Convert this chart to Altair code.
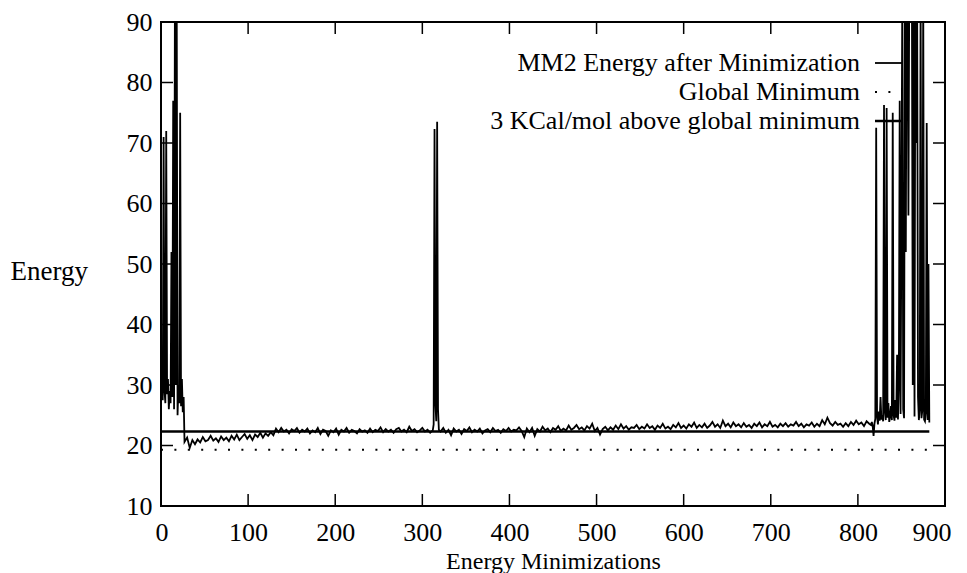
import altair as alt
import pandas as pd

# ---------------- data ----------------
# early region, x = 0..26 (step 1)
early_y = [28.0, 30.5, 27.5, 71.0, 29.0, 27.0, 72.0, 28.5, 31.0, 26.0, 29.0, 27.0,
           52.0, 28.0, 77.0, 26.0, 96.0, 30.0, 96.0, 25.0, 30.0, 27.0, 75.0, 26.5,
           31.0, 25.5, 28.0]
# baseline part 1, x = 27, 30, ... (step 3)
base1_y = [20.6, 21.3, 19.6, 20.9, 20.2, 21.0, 20.5, 21.4, 20.7, 20.9, 21.6, 20.8,
           21.2, 20.6, 21.5, 20.9, 21.3, 20.7, 21.6, 21.0, 21.8, 20.9, 21.4, 21.9,
           21.1, 21.7, 20.9, 21.8, 21.4, 22.1, 21.3, 22.0, 21.6, 22.2, 21.7, 22.8,
           22.2, 22.9, 22.3, 22.6, 22.0, 22.7, 22.4, 22.9, 22.1, 22.6, 22.3, 22.8,
           22.0, 22.5, 22.2, 22.9, 21.9, 22.6, 22.4, 21.6, 22.5, 22.2, 22.8, 21.8,
           22.6, 22.3, 22.9, 22.1, 22.6, 22.4, 22.0, 22.7, 22.3, 22.5, 22.1, 22.8,
           22.2, 22.6, 22.4, 23.0, 22.2, 22.7, 22.3, 22.6, 22.1, 22.7, 22.9, 22.3,
           22.6, 22.2, 23.1, 22.4, 22.7, 22.2, 22.5, 22.9, 22.3, 22.6, 22.1, 22.5]
# spike near 315, x = 313..319 (step 1)
spike_y = [23.5, 72.3, 27.0, 24.0, 73.5, 26.0, 22.6]
# baseline part 2, x = 321, 324, ... (step 3)
base2_y = [22.3, 22.9, 22.1, 22.6, 21.7, 22.8, 22.3, 22.6, 21.9, 22.7, 22.4, 23.0,
           22.2, 22.6, 22.3, 22.8, 22.0, 22.5, 22.7, 22.2, 22.9, 22.4, 22.6, 22.1,
           22.7, 22.4, 22.9, 22.3, 22.6, 22.5, 23.0, 22.4, 21.4, 22.8, 22.2, 22.9,
           21.6, 22.7, 22.3, 23.1, 22.5, 22.8, 22.2, 22.9, 22.6, 23.2, 22.4, 22.8,
           22.5, 23.3, 22.6, 22.9, 23.4, 22.7, 23.0, 22.5, 23.2, 22.8, 23.6, 22.4,
           22.9, 21.8, 22.7, 23.1, 22.5, 23.0, 22.6, 23.3, 22.7, 23.5, 22.8, 23.2,
           22.6, 23.0, 22.9, 23.4, 22.7, 23.1, 22.8, 23.5, 22.9, 23.2, 22.6, 23.3,
           22.9, 23.6, 22.8, 23.1, 22.7, 23.4, 23.0, 23.7, 22.9, 23.3, 22.8, 23.5,
           23.1, 23.8, 22.9, 23.4, 23.0, 23.6, 22.9, 23.3, 23.9, 23.1, 23.5, 22.9,
           24.1, 23.2, 23.6, 23.0, 23.8, 23.2, 23.5, 23.0, 23.7, 23.1, 23.4, 22.9,
           23.6, 23.2, 23.8, 23.0, 23.5, 23.2, 23.9, 23.1, 23.4, 23.0, 23.6, 23.2,
           23.7, 23.1, 23.5, 23.3, 23.9, 23.2, 23.6, 23.0, 23.5, 23.3, 23.8, 23.1,
           23.6, 23.2, 24.2, 23.5, 24.6, 23.7, 23.3, 23.9, 23.4, 23.6, 23.1, 23.7,
           23.2, 23.9, 23.4, 24.1, 23.5, 23.8, 23.2, 24.0, 23.6]
# unstable end region, x = 815..882 (step 1)
late_y = [23.4, 23.9, 23.2, 21.6, 23.6, 24.4, 72.5, 24.8, 23.5, 25.6, 24.1, 28.0,
          24.3, 25.0, 24.0, 76.3, 25.5, 24.2, 75.8, 24.6, 27.0, 23.9, 24.8, 26.5,
          24.2, 75.0, 25.0, 24.1, 27.5, 24.6, 35.0, 24.3, 30.0, 77.0, 25.2, 58.0,
          96.0, 26.0, 24.5, 96.0, 52.0, 96.0, 96.0, 58.0, 96.0, 96.0, 96.0, 96.0,
          30.0, 96.0, 24.8, 96.0, 70.0, 96.0, 28.0, 24.2, 26.0, 96.0, 24.5, 25.8,
          96.0, 24.3, 24.0, 25.5, 73.3, 24.2, 50.0, 23.8]

global_min = 19.3
above_min = 22.3
ref_line_end = 882

x_ticks = [0, 100, 200, 300, 400, 500, 600, 700, 800, 900]
y_ticks = [10, 20, 30, 40, 50, 60, 70, 80, 90]
legend_labels = ["MM2 Energy after Minimization", "Global Minimum",
                 "3 KCal/mol above global minimum"]

# ---------------- tables ----------------
xs, ys = [], []
xs += list(range(0, len(early_y)));                 ys += early_y
xs += [27 + 3 * i for i in range(len(base1_y))];    ys += base1_y
xs += [313 + i for i in range(len(spike_y))];       ys += spike_y
xs += [321 + 3 * i for i in range(len(base2_y))];   ys += base2_y
xs += [815 + i for i in range(len(late_y))];        ys += late_y
df = pd.DataFrame({"x": xs, "y": ys})

ref_df = pd.DataFrame({"x0": [0, 0], "x1": [ref_line_end, ref_line_end],
                       "y": [global_min, above_min], "kind": ["min", "above"]})
xt = pd.DataFrame({"t": x_ticks[1:-1]})
yt = pd.DataFrame({"t": y_ticks[1:-1]})

W, H = 784, 484
FONT = "Liberation Serif"

xscale = alt.Scale(domain=[0, 900], nice=False, zero=False)
yscale = alt.Scale(domain=[10, 90], nice=False, zero=False)
xaxis = alt.Axis(values=x_ticks, title="Energy Minimizations", labelFlush=True,
                 labelFlushOffset=6, labelPadding=13, titleY=62,
                 titleBaseline="alphabetic", titleAnchor="middle", titleFontSize=24)
yaxis = alt.Axis(values=y_ticks, title="Energy", labelFlush=False,
                 labelPadding=9, titleAngle=0, titleAlign="left",
                 titleBaseline="alphabetic", titleX=-151, titleY=257)

def X(f):
    return alt.X(f, scale=xscale, axis=xaxis, title="Energy Minimizations")

def Y(f):
    return alt.Y(f, scale=yscale, axis=yaxis, title="Energy")

main = alt.Chart(df).mark_line(color="black", strokeWidth=1.8, clip=True).encode(
    x=X("x:Q"), y=Y("y:Q"))

min_rule = alt.Chart(ref_df).transform_filter(alt.datum.kind == "min").mark_rule(
    color="black", strokeWidth=2, strokeDash=[2, 11.4]).encode(
    x=X("x0:Q"), x2="x1:Q", y=Y("y:Q"))
above_rule = alt.Chart(ref_df).transform_filter(alt.datum.kind == "above").mark_rule(
    color="black", strokeWidth=2.5).encode(
    x=X("x0:Q"), x2="x1:Q", y=Y("y:Q"))

tick_len = 12
bt = alt.Chart(xt).mark_rule(color="black", strokeWidth=1.5).encode(
    x=X("t:Q"), y=alt.value(H), y2=alt.value(H - tick_len))
tt = alt.Chart(xt).mark_rule(color="black", strokeWidth=1.5).encode(
    x=X("t:Q"), y=alt.value(0), y2=alt.value(tick_len))
lt = alt.Chart(yt).mark_rule(color="black", strokeWidth=1.5).encode(
    y=Y("t:Q"), x=alt.value(0), x2=alt.value(tick_len))
rt = alt.Chart(yt).mark_rule(color="black", strokeWidth=1.5).encode(
    y=Y("t:Q"), x=alt.value(W), x2=alt.value(W - tick_len))

# legend (top right, labels left of samples)
one = alt.Data(values=[{}])
leg_layers = []
base_y = [49, 78, 107]
styles = [dict(strokeWidth=1.8), dict(strokeWidth=2, strokeDash=[2, 11.4]), dict(strokeWidth=2.5)]
for lab, by, st in zip(legend_labels, base_y, styles):
    leg_layers.append(alt.Chart(one).mark_text(
        text=lab, align="right", baseline="alphabetic", font=FONT, fontSize=26,
        color="black").encode(x=alt.value(699), y=alt.value(by)))
    leg_layers.append(alt.Chart(one).mark_rule(color="black", **st).encode(
        x=alt.value(714), x2=alt.value(742), y=alt.value(by - 8)))

chart = alt.layer(main, above_rule, min_rule, bt, tt, lt, rt, *leg_layers).properties(
    width=W, height=H, autosize="none",
    padding={"left": 153, "top": 14, "right": 12, "bottom": 70},
    background="white",
).configure_view(stroke="black", strokeWidth=2).configure_axis(
    domain=False, grid=False, ticks=False,
    labelFont=FONT, labelFontSize=26, labelColor="black",
    titleFont=FONT, titleFontSize=27, titleFontWeight="normal", titleColor="black",
)

chart.save("out.html", embed_options={"renderer": "svg", "actions": False})
